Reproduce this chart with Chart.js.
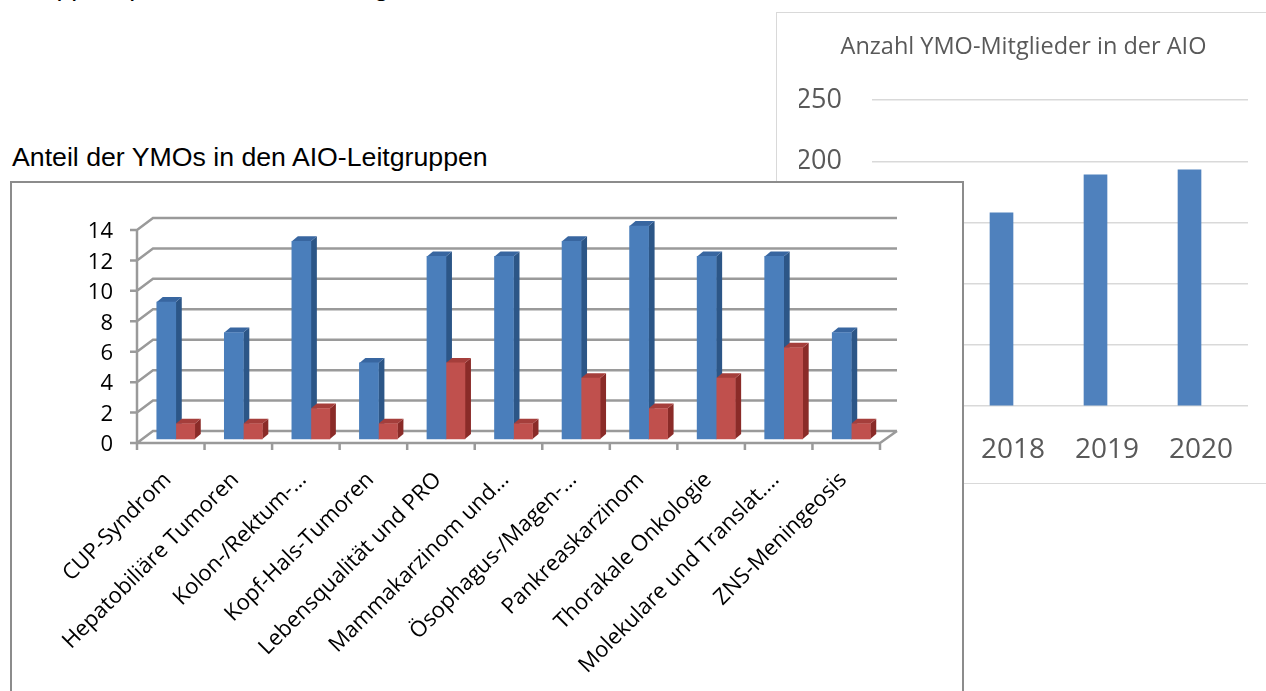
<!DOCTYPE html>
<html>
<head>
<meta charset="utf-8">
<script src="https://cdn.jsdelivr.net/npm/chart.js@4.4.1/dist/chart.umd.min.js"></script>
<style>
  body { margin: 0; width: 1266px; height: 691px; overflow: hidden; background: #fff; position: relative; }
  .txt { position: absolute; white-space: nowrap; font-family: "Liberation Sans", Arial, sans-serif; font-size: 26.7px; line-height: 26px; color: #000; }
  #rightBox { position: absolute; left: 776px; top: 12px; width: 520px; height: 470px; border: 1px solid #d9d9d9; background: #fff; }
  #leftBox { position: absolute; left: 10px; top: 181px; width: 950px; height: 520px; border: 2px solid #8c8c8c; background: #fff; }
  canvas { position: absolute; left: 0; top: 0; }
</style>
</head>
<body>
<div class="txt" style="left:12px; top:-26px;">Gruppensprecherinnen-Meeting</div>
<div id="rightBox"><canvas id="memberChart" width="500" height="470"></canvas></div>
<div class="txt" style="left:12px; top:144px;">Anteil der YMOs in den AIO-Leitgruppen</div>
<div id="leftBox"><canvas id="groupChart" width="949" height="508"></canvas></div>

<script>
// right chart: members per year (2017 sits behind the left chart box)
const memberYears = ["2017", "2018", "2019", "2020"];
const memberCounts = [null, 158, 189, 193];
const memberEmpty = [null, null, null, null];

// left chart: AIO-Leitgruppen
const groupLabels = [
  "CUP-Syndrom",
  "Hepatobiliäre Tumoren",
  "Kolon-/Rektum-…",
  "Kopf-Hals-Tumoren",
  "Lebensqualität und PRO",
  "Mammakarzinom und…",
  "Ösophagus-/Magen-…",
  "Pankreaskarzinom",
  "Thorakale Onkologie",
  "Molekulare und Translat.…",
  "ZNS-Meningeosis",
];
const groupTotal = [9, 7, 13, 5, 12, 12, 13, 14, 12, 12, 7];
const groupYmo = [1, 1, 2, 1, 5, 1, 4, 2, 4, 6, 1];

const grey = "#595959";

new Chart(document.getElementById("memberChart"), {
  type: "bar",
  data: {
    labels: memberYears,
    datasets: [
      { label: "Mitglieder", data: memberCounts, backgroundColor: "#4f81bd", barThickness: 23 },
      { label: "", data: memberEmpty, backgroundColor: "#c0504d", barThickness: 23 },
    ],
  },
  options: {
    responsive: false,
    animation: false,
    layout: { padding: { left: 22, right: 29 } },
    plugins: {
      legend: { display: false },
      tooltip: { enabled: false },
      title: {
        display: true,
        text: "Anzahl YMO-Mitglieder in der AIO",
        color: grey,
        font: { family: "Open Sans", size: 23.5, weight: "normal" },
        padding: { top: 20, bottom: 39 },
      },
    },
    scales: {
      x: {
        grid: { display: false },
        border: { display: false },
        ticks: { color: grey, font: { family: "Open Sans", size: 28 }, padding: 19 },
        afterFit: (scale) => { scale.height = 77; },
      },
      y: {
        min: 0,
        max: 250,
        grid: { color: "#d9d9d9", lineWidth: 1.5, drawTicks: false },
        border: { display: false },
        ticks: { stepSize: 50, color: grey, font: { family: "Open Sans", size: 27 }, padding: 30 },
        afterFit: (scale) => { scale.width = 73; },
      },
    },
  },
});

// fake 3D: back wall grid, and depth faces on each bar
const DX = 16, DY = -12;   // back wall offset
const TX = 5, TY = -4;     // bars sit a bit inside the floor
const FX = 6, FY = -5;     // bar depth
const faceColors = [
  { side: "#2c5687", top: "#3866a0" },
  { side: "#8a2b28", top: "#a53e3b" },
];

const pseudo3d = {
  id: "pseudo3d",
  beforeDatasetsDraw(chart) {
    const { ctx, chartArea: a, scales } = chart;
    const x = scales.x, y = scales.y;
    const y0 = y.getPixelForValue(0);
    ctx.save();
    ctx.strokeStyle = "#9a9a9a";
    ctx.lineWidth = 2.5;
    ctx.beginPath();
    y.ticks.forEach((t) => {
      const py = y.getPixelForValue(t.value);
      ctx.moveTo(a.left - 7, py);
      ctx.lineTo(a.left, py);
      ctx.lineTo(a.left + DX, py + DY);
      ctx.lineTo(a.right + DX + 1, py + DY);
    });
    ctx.moveTo(a.left, y.getPixelForValue(y.max));
    ctx.lineTo(a.left, y0);
    ctx.lineTo(a.right, y0);
    ctx.lineTo(a.right + DX + 1, y0 + DY);
    const n = x.ticks.length;
    for (let i = 0; i <= n; i++) {
      const px = a.left + (i * (a.right - a.left)) / n;
      ctx.moveTo(px, y0);
      ctx.lineTo(px, y0 + 7);
    }
    ctx.stroke();
    ctx.restore();

    ctx.save();
    ctx.translate(TX, TY);
    chart.data.datasets.forEach((ds, di) => {
      const meta = chart.getDatasetMeta(di);
      meta.data.forEach((bar) => {
        const l = bar.x - bar.width / 2, r = bar.x + bar.width / 2;
        const top = bar.y, bot = bar.base;
        ctx.fillStyle = faceColors[di].side;
        ctx.beginPath();
        ctx.moveTo(r, top);
        ctx.lineTo(r + FX, top + FY);
        ctx.lineTo(r + FX, bot + FY);
        ctx.lineTo(r, bot);
        ctx.closePath();
        ctx.fill();
        ctx.fillStyle = faceColors[di].top;
        ctx.beginPath();
        ctx.moveTo(l, top);
        ctx.lineTo(l + FX, top + FY);
        ctx.lineTo(r + FX, top + FY);
        ctx.lineTo(r, top);
        ctx.closePath();
        ctx.fill();
      });
    });
  },
  afterDatasetsDraw(chart) {
    chart.ctx.restore();
  },
};

new Chart(document.getElementById("groupChart"), {
  type: "bar",
  data: {
    labels: groupLabels,
    datasets: [
      { label: "Gesamt", data: groupTotal, backgroundColor: "#4a7ebb", barThickness: 19, clip: false },
      { label: "YMO", data: groupYmo, backgroundColor: "#c0504d", barThickness: 19, clip: false },
    ],
  },
  plugins: [pseudo3d],
  options: {
    responsive: false,
    animation: false,
    layout: { padding: { top: 47, right: 81 } },
    plugins: { legend: { display: false }, tooltip: { enabled: false } },
    scales: {
      x: {
        grid: { display: false, drawTicks: false },
        border: { display: false },
        ticks: {
          autoSkip: false,
          maxRotation: 45,
          minRotation: 45,
          padding: 24,
          labelOffset: -3,
          color: "#000",
          font: { family: "Open Sans", size: 22 },
        },
        afterFit: (scale) => { scale.height = 248; },
      },
      y: {
        min: 0,
        max: 14,
        grid: { display: false, drawTicks: false },
        border: { display: false },
        ticks: { stepSize: 2, padding: 24, labelOffset: 2, color: "#000", font: { family: "Open Sans", size: 22 } },
        afterFit: (scale) => { scale.width = 125; },
      },
    },
  },
});
</script>
</body>
</html>
